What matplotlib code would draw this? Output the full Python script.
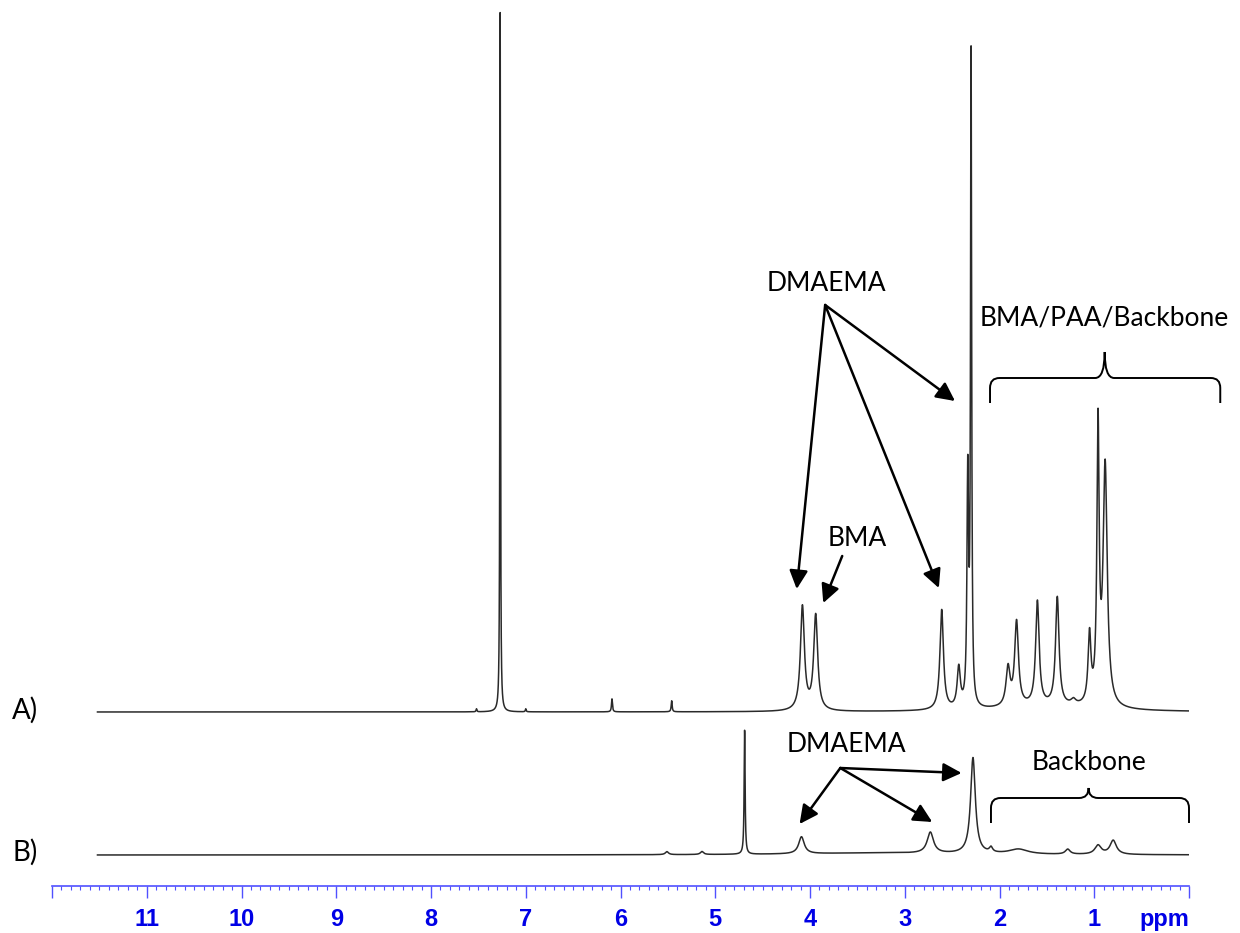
import numpy as np
import matplotlib
matplotlib.use('Agg')
from matplotlib import pyplot as plt
from matplotlib.path import Path
from matplotlib.patches import PathPatch
from matplotlib.ticker import MultipleLocator

# peak tables (ppm, height, half width)
a_ppm = [7.52, 7.27, 7.00, 6.09, 5.46, 4.08, 3.94, 2.61, 2.43, 2.335, 2.30,
         1.91, 1.82, 1.60, 1.39, 1.22, 1.05, 0.96, 0.885, 1.50]
a_height = [3, 700, 3, 13, 11, 104, 95, 100, 40, 228, 645,
            38, 84, 104, 108, 5, 68, 272, 240, 5]
a_width = [0.005, 0.004, 0.005, 0.006, 0.006, 0.025, 0.025, 0.022, 0.02, 0.01, 0.007,
           0.025, 0.024, 0.022, 0.022, 0.03, 0.018, 0.014, 0.026, 0.6]

b_ppm = [5.51, 5.14, 4.69, 4.09, 2.73, 2.28, 2.09, 1.80, 1.28, 0.96, 0.80, 3.3]
b_height = [3, 3, 124, 17, 21, 96, 5, 5, 5, 9, 14, 2]
b_width = [0.02, 0.02, 0.006, 0.035, 0.04, 0.03, 0.02, 0.12, 0.03, 0.04, 0.04, 1.0]

x_start, x_end = 11.52, 0.0
a_base, b_base = 174, 31

ticks = list(range(0, 13))
tick_labels = ['ppm'] + [str(i) for i in range(1, 12)] + ['']


def spectrum(x, ppm, height, width, base):
    y = np.full_like(x, base, dtype=float)
    for p, h, g in zip(ppm, height, width):
        y += h * g**2 / ((x - p)**2 + g**2)
    return y


def brace(ax, x0, x1, xm, ytop, yend, ycusp, d=0.1, r=10):
    s = 1 if x1 > x0 else -1
    verts = [(x0, yend), (x0, ytop - r), (x0, ytop), (x0 + s*d, ytop),
             (xm - s*d, ytop), (xm, ytop), (xm, ycusp),
             (xm, ytop), (xm + s*d, ytop),
             (x1 - s*d, ytop), (x1, ytop), (x1, ytop - r), (x1, yend)]
    codes = [Path.MOVETO, Path.LINETO, Path.CURVE3, Path.CURVE3,
             Path.LINETO, Path.CURVE3, Path.CURVE3,
             Path.CURVE3, Path.CURVE3,
             Path.LINETO, Path.CURVE3, Path.CURVE3, Path.LINETO]
    ax.add_patch(PathPatch(Path(verts, codes), fc='none', ec='black', lw=1.4,
                           clip_on=False))


fig = plt.figure(figsize=(12.4, 9.33), dpi=100)
ax = fig.add_axes([52/1240, 47/933, 1137/1240, 886/933])
ax.set_xlim(12, 0)
ax.set_ylim(0, 886)

x = np.linspace(x_start, x_end, 40000)
ax.plot(x, spectrum(x, a_ppm, a_height, a_width, a_base), color='#2a2a2a', lw=1.1)
ax.plot(x, spectrum(x, b_ppm, b_height, b_width, b_base), color='#2a2a2a', lw=1.1)

for s in ['top', 'left', 'right']:
    ax.spines[s].set_visible(False)
ax.spines['bottom'].set_color('#5050ff')
ax.spines['bottom'].set_linewidth(1.2)
ax.set_yticks([])
ax.set_xticks(ticks)
ax.set_xticklabels(tick_labels, fontfamily='Liberation Sans', fontweight='bold',
                   fontsize=17, color='#0000e6')
ax.get_xticklabels()[0].set_ha('right')
ax.xaxis.set_minor_locator(MultipleLocator(0.1))
ax.tick_params(axis='x', which='major', length=8.5, width=1.0, color='#5050ff', pad=7)
ax.tick_params(axis='x', which='minor', length=3, width=0.8, color='#5050ff')

tfont = dict(family='Lato', fontsize=19, color='black')
arrow = dict(arrowstyle='-|>', mutation_scale=28, lw=1.8, color='black',
             shrinkA=0, shrinkB=0)

# spectrum labels
ax.text(12.42, 176, 'A)', ha='left', va='center', clip_on=False,
        family='Lato', fontsize=20)
ax.text(12.42, 34, 'B)', ha='left', va='center', clip_on=False,
        family='Lato', fontsize=20)

# A annotations
ax.text(3.83, 603, 'DMAEMA', ha='center', va='center', **tfont)
for tip in [(4.14, 297), (2.64, 298), (2.47, 485)]:
    ax.annotate('', xy=tip, xytext=(3.84, 581), arrowprops=arrow)
ax.text(3.50, 348, 'BMA', ha='center', va='center', **tfont)
ax.annotate('', xy=(3.86, 283), xytext=(3.66, 330), arrowprops=arrow)
ax.text(0.89, 568, 'BMA/PAA/Backbone', ha='center', va='center', clip_on=False, **tfont)
brace(ax, 2.10, -0.33, 0.89, 508, 483, 534)

# B annotations
ax.text(3.62, 141, 'DMAEMA', ha='center', va='center', **tfont)
for tip in [(4.11, 62), (2.71, 64), (2.40, 113)]:
    ax.annotate('', xy=tip, xytext=(3.68, 118), arrowprops=arrow)
ax.text(1.06, 124, 'Backbone', ha='center', va='center', **tfont)
brace(ax, 2.09, 0.0, 1.06, 88, 63, 98)

fig.savefig('out.png', dpi=100)
